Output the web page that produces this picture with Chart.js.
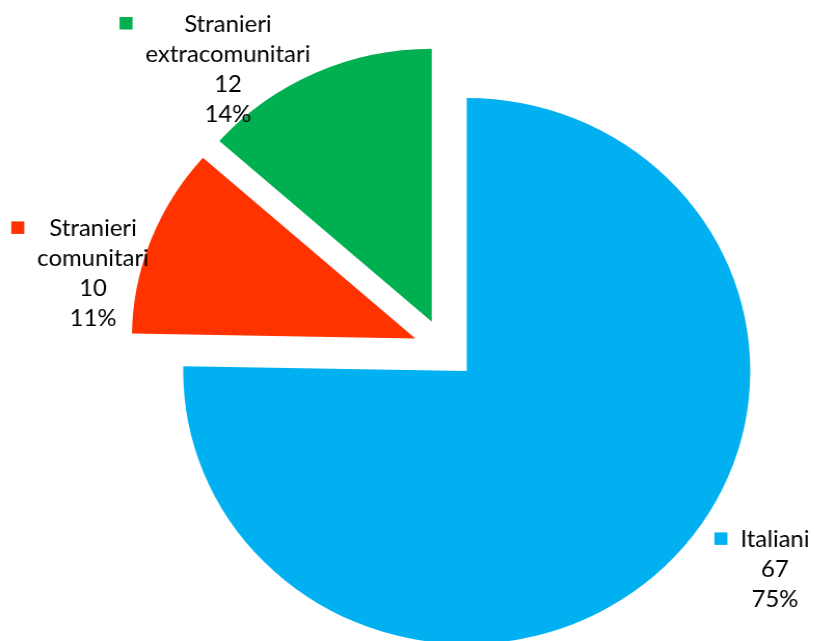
<!DOCTYPE html>
<html>
<head>
<meta charset="utf-8">
<script src="https://cdn.jsdelivr.net/npm/chart.js@4"></script>
<style>
  html, body { margin: 0; padding: 0; background: #fff; overflow: hidden; }
  #wrap { width: 784px; height: 641px; transform: scaleX(1.0385); transform-origin: 0 0; }
</style>
</head>
<body>
<div id="wrap"><canvas id="c" width="784" height="641"></canvas></div>
<script>
const categories = ["Italiani", "Stranieri comunitari", "Stranieri extracomunitari"];
const labelLines = [["Italiani"], ["Stranieri", "comunitari"], ["Stranieri", "extracomunitari"]];
const values = [67, 10, 12];
const percentLabels = ["75%", "11%", "14%"];
const colors = ["#00B0F0", "#FF3300", "#00B050"];

// label anchor (centre x, first baseline y) relative to chart centre, in canvas px
const labelAnchors = [[318, 198], [-338.6, -113], [-208.7, -317.4]];

// every slice is pulled out of the centre by this distance, along its mid angle
const EXPLODE = 30.3;

const explodePlugin = {
  id: 'explode',
  afterDatasetUpdate(chart, args) {
    const meta = chart.getDatasetMeta(args.index);
    meta.data.forEach(arc => {
      const mid = (arc.startAngle + arc.endAngle) / 2;
      arc.x += Math.cos(mid) * EXPLODE;
      arc.y += Math.sin(mid) * EXPLODE;
    });
  }
};

const labelPlugin = {
  id: 'pieLabels',
  afterDatasetsDraw(chart) {
    const ctx = chart.ctx;
    const meta = chart.getDatasetMeta(0);
    const cx = (chart.chartArea.left + chart.chartArea.right) / 2;
    const cy = (chart.chartArea.top + chart.chartArea.bottom) / 2;
    ctx.save();
    ctx.font = '23px Lato';
    ctx.fillStyle = '#000';
    ctx.textAlign = 'center';
    ctx.textBaseline = 'alphabetic';
    meta.data.forEach((arc, i) => {
      const lines = labelLines[i].concat([String(values[i]), percentLabels[i]]);
      const ax = cx + labelAnchors[i][0];
      const ay = cy + labelAnchors[i][1];
      let maxW = 0;
      lines.forEach(l => { maxW = Math.max(maxW, ctx.measureText(l).width); });
      lines.forEach((l, k) => ctx.fillText(l, ax, ay + k * 30));
      ctx.fillStyle = colors[i];
      ctx.fillRect(ax - maxW / 2 - 25, ay - 15, 12.5, 12.5);
      ctx.fillStyle = '#000';
    });
    ctx.restore();
  }
};

new Chart(document.getElementById('c'), {
  type: 'pie',
  data: {
    labels: categories,
    datasets: [{
      data: values,
      backgroundColor: colors,
      borderWidth: 0,
      offset: 0,
      hoverOffset: 0
    }]
  },
  options: {
    responsive: false,
    animation: false,
    radius: 273,
    layout: { padding: { left: 72.4, right: 0, top: 57.8, bottom: 0 } },
    plugins: { legend: { display: false }, tooltip: { enabled: false } },
    events: []
  },
  plugins: [explodePlugin, labelPlugin]
});
</script>
</body>
</html>
